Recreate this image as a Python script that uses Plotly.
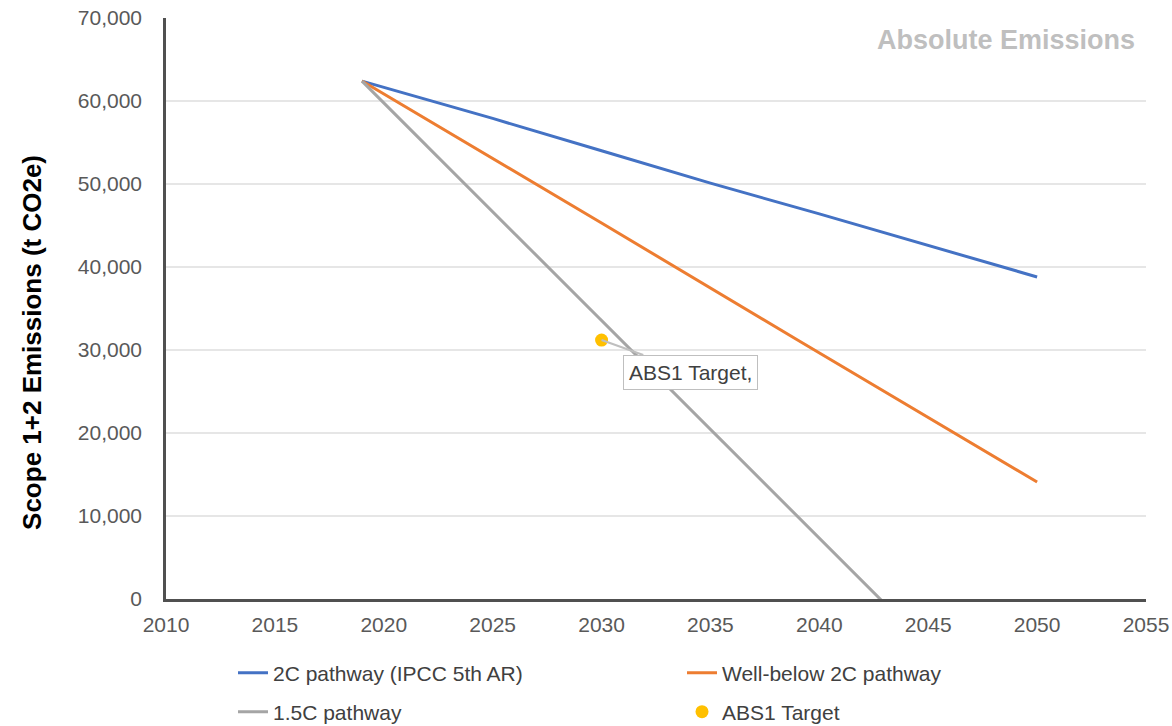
import plotly.graph_objects as go

# values
years_2c = [2019, 2025, 2030, 2035, 2040, 2045, 2050]
two_c = [62400, 57900, 54000, 50100, 46400, 42600, 38800]

years_wb2c = [2019, 2030, 2039, 2050]
well_below_2c = [62400, 45300, 31200, 14100]

years_15c = [2019, 2050]
one_five_c = [62400, -18900]

target_year = [2030]
target_value = [31200]

x_ticks = list(range(2010, 2056, 5))
y_ticks = list(range(0, 70001, 10000))

FONT = "Liberation Sans, Arial"
tick_font = dict(family=FONT, size=21, color="#595959")

fig = go.Figure()
fig.add_trace(go.Scatter(
    x=years_2c, y=two_c, mode="lines", name="2C pathway (IPCC 5th AR)",
    line=dict(color="#4472C4", width=3), legend="legend",
))
fig.add_trace(go.Scatter(
    x=years_wb2c, y=well_below_2c, mode="lines", name="Well-below 2C pathway",
    line=dict(color="#ED7D31", width=3), legend="legend2",
))
fig.add_trace(go.Scatter(
    x=years_15c, y=one_five_c, mode="lines", name="1.5C pathway",
    line=dict(color="#A5A5A5", width=3), legend="legend3",
))
fig.add_trace(go.Scatter(
    x=target_year, y=target_value, mode="markers", name="ABS1 Target",
    marker=dict(color="#FFC000", size=13), legend="legend4",
))

fig.add_annotation(
    x=target_year[0], y=target_value[0], text="ABS1 Target,",
    showarrow=True, arrowhead=0, arrowcolor="#BFBFBF", arrowwidth=2,
    ax=89, ay=32, bordercolor="#BFBFBF", borderwidth=1, borderpad=5,
    bgcolor="white", font=dict(family=FONT, size=21, color="#404040"),
)
fig.add_annotation(
    xref="paper", yref="paper", x=0.991, y=0.962, xanchor="right", yanchor="middle",
    text="<b>Absolute Emissions</b>", showarrow=False,
    font=dict(family=FONT, size=27, color="#BFBFBF"),
)
fig.add_annotation(
    xref="paper", yref="paper", x=-0.137, y=0.442, xanchor="center", yanchor="middle",
    text="<b>Scope 1+2 Emissions (t CO2e)</b>", textangle=-90, showarrow=False,
    font=dict(family=FONT, size=26, color="#000000"),
)


def legend_at(px, py):
    return dict(
        xref="container", yref="container", x=px / 1172, y=1 - py / 726,
        xanchor="left", yanchor="middle", orientation="h",
        font=dict(family=FONT, size=21, color="#404040"),
        bgcolor="rgba(0,0,0,0)",
    )


fig.update_layout(
    width=1172, height=726, showlegend=True,
    margin=dict(l=166, r=26, t=18, b=127, autoexpand=False),
    paper_bgcolor="white", plot_bgcolor="white",
    legend=legend_at(233, 673),
    legend2=legend_at(682, 673),
    legend3=legend_at(233, 712),
    legend4=legend_at(682, 712),
    xaxis=dict(
        range=[2010, 2055], tickvals=x_ticks, showgrid=False, zeroline=False,
        showline=True, linecolor="#505050", linewidth=2.5, tickfont=tick_font,
        ticks="", ticklabelstandoff=5,
    ),
    yaxis=dict(
        range=[0, 70000], tickvals=y_ticks, tickformat=",", showgrid=True,
        gridcolor="#E6E6E6", gridwidth=1.5, zeroline=False, showline=True,
        linecolor="#505050", linewidth=2.5, tickfont=tick_font, ticks="",
        ticklabelstandoff=17,
    ),
)

fig.write_html(
    "out.html",
    config={"displayModeBar": False},
    post_script="document.body.style.margin='0';",
)
